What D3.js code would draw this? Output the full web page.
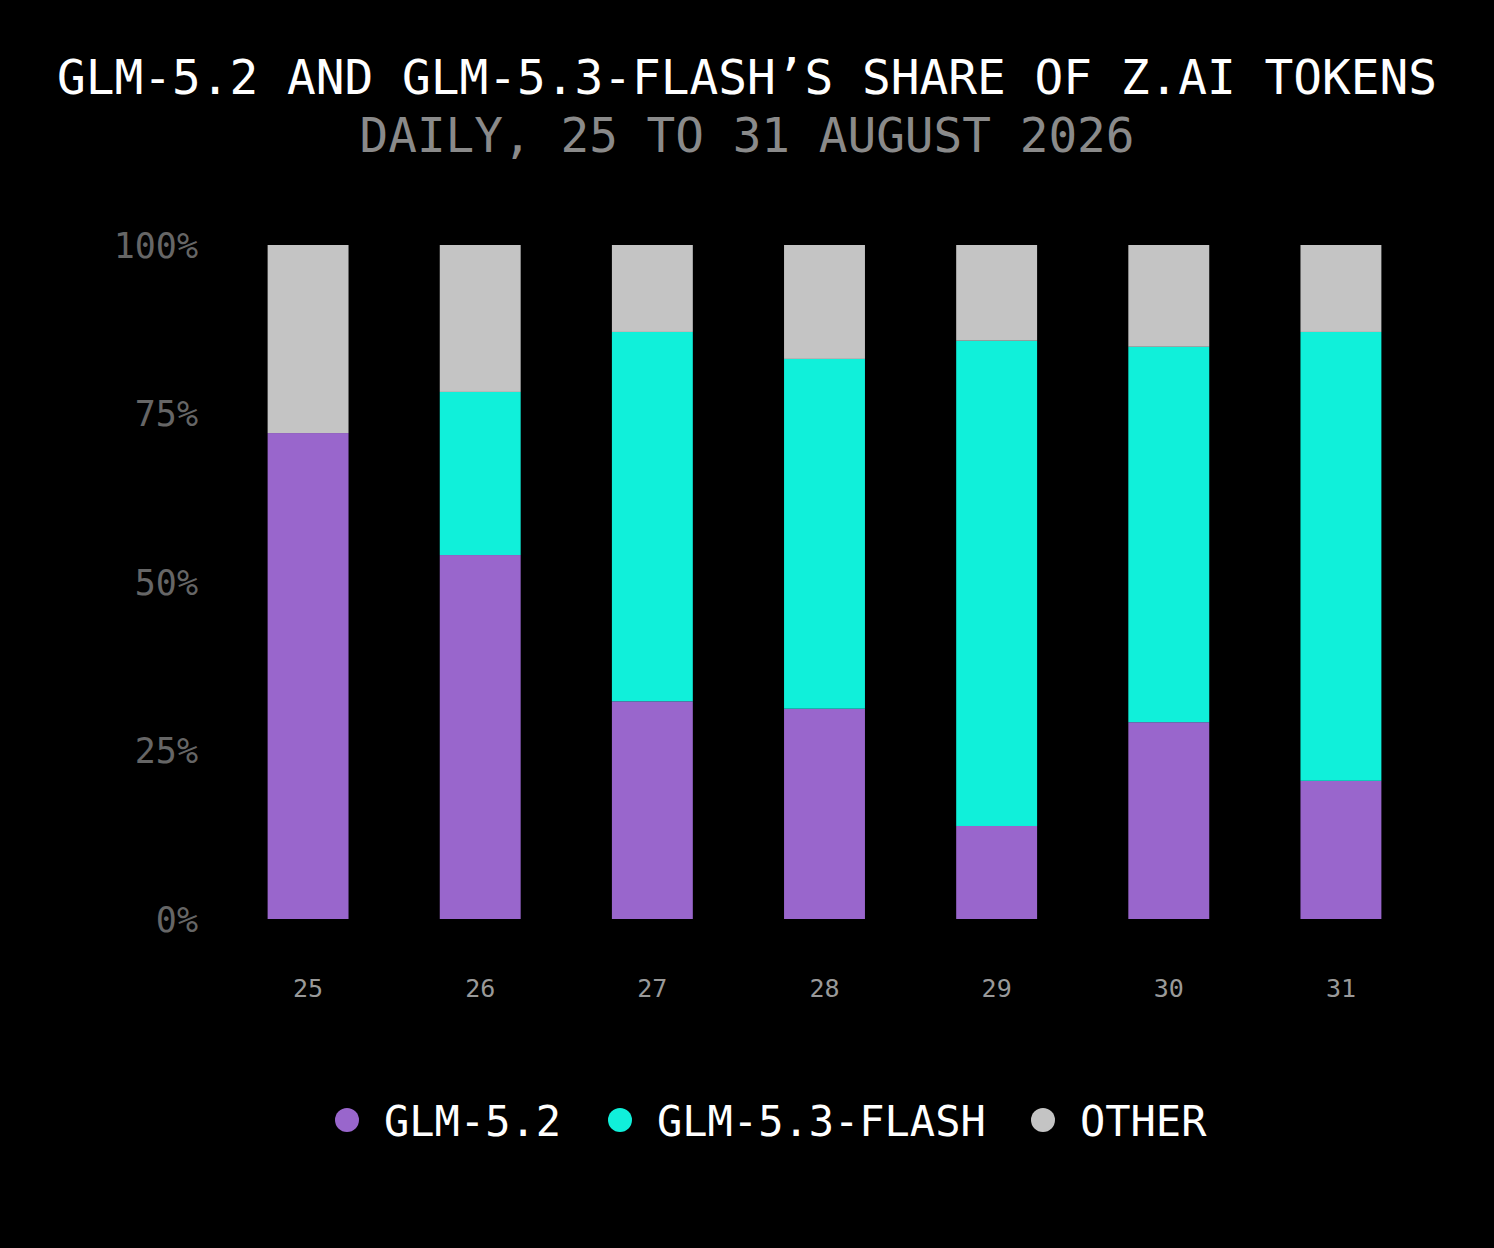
<!DOCTYPE html>
<html><head><meta charset="utf-8">
<script src="https://cdn.jsdelivr.net/npm/d3@7"></script>
<style>body{margin:0;background:#000}</style></head>
<body><svg id="c" width="1494" height="1248"></svg>
<script>
const days = ["25","26","27","28","29","30","31"];
const series = ["GLM-5.2","GLM-5.3-FLASH","OTHER"];
const glm52 = [72.1,54.0,32.3,31.2,13.8,29.2,20.5];
const flash = [0,24.2,54.8,51.9,72.0,55.7,66.6];
const other = [27.9,21.8,12.9,16.9,14.2,15.1,12.9];
const yTicks = [0,25,50,75,100];
const colors = ["#9966CC","#10F0DA","#C4C4C4"];

const svg = d3.select("#c");
svg.append("rect").attr("width",1494).attr("height",1248).attr("fill","#000");
const font = "'DejaVu Sans Mono', 'Liberation Mono', monospace";

svg.append("text").attr("x",747).attr("y",94).attr("text-anchor","middle")
  .attr("fill","#fff").attr("font-family",font).attr("font-size",48)
  .attr("textLength",1380).attr("lengthAdjust","spacingAndGlyphs")
  .text("GLM-5.2 AND GLM-5.3-FLASH’S SHARE OF Z.AI TOKENS");
svg.append("text").attr("x",747).attr("y",152).attr("text-anchor","middle")
  .attr("fill","#8a8a8a").attr("font-family",font).attr("font-size",48)
  .attr("textLength",775).attr("lengthAdjust","spacingAndGlyphs")
  .text("DAILY, 25 TO 31 AUGUST 2026");

const x = d3.scaleBand().domain(days).range([222,1427]).paddingInner(0.53).paddingOuter(0.265);
const y = d3.scaleLinear().domain([0,100]).range([919,245]);

const rows = days.map((d,i)=>({day:d,"GLM-5.2":glm52[i],"GLM-5.3-FLASH":flash[i],"OTHER":other[i]}));
const stack = d3.stack().keys(series)(rows);
stack.forEach((s,k)=>{
  svg.append("g").attr("fill",colors[k]).selectAll("rect").data(s).join("rect")
    .attr("x",d=>x(d.data.day)).attr("width",x.bandwidth())
    .attr("y",d=>y(Math.min(d[1],100))).attr("height",d=>y(d[0])-y(Math.min(d[1],100)));
});

const ya = svg.append("g").attr("transform","translate(198,0)")
  .call(d3.axisLeft(y).tickValues(yTicks).tickFormat(d=>d+"%").tickSize(0).tickPadding(0));
ya.select(".domain").remove();
ya.selectAll("text").attr("fill","#666").attr("font-family",font).attr("font-size",35).attr("dy","0.35em");

const xa = svg.append("g").attr("transform","translate(0,988)")
  .call(d3.axisBottom(x).tickSize(0).tickPadding(0));
xa.select(".domain").remove();
xa.selectAll("text").attr("fill","#999").attr("font-family",font).attr("font-size",25).attr("dy","0.35em");

const legX = [347,620,1043];
series.forEach((s,i)=>{
  svg.append("circle").attr("cx",legX[i]).attr("cy",1120).attr("r",12).attr("fill",colors[i]);
  svg.append("text").attr("x",legX[i]+37).attr("y",1121).attr("dy","0.35em")
    .attr("fill","#fff").attr("font-family",font).attr("font-size",42).text(s);
});
</script></body></html>
